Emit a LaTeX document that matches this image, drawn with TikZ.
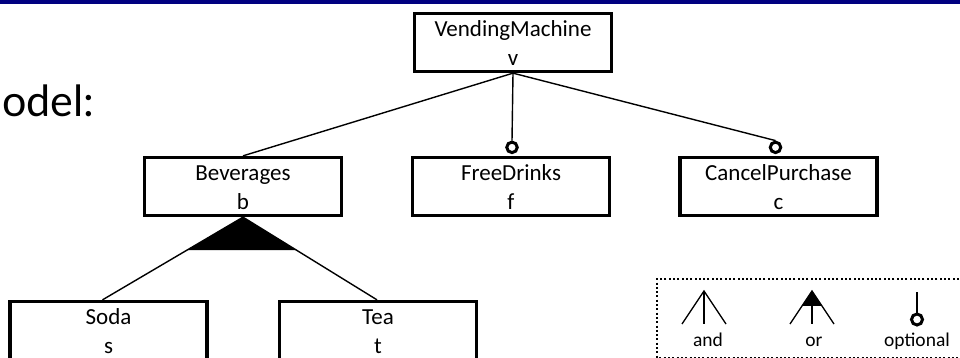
\documentclass[tikz,border=0pt]{standalone}
\usepackage{fontspec}
\setmainfont{Carlito}
\newfontfamily\titlefont{Lato}
\usetikzlibrary{calc}
\definecolor{barblue}{RGB}{0,0,128}
\tikzset{
  fbox/.style={draw, line width=3.3pt, minimum width=197pt, minimum height=58pt, inner sep=0pt},
  flabel/.style={anchor=base, inner sep=0pt, font=\fontsize{23}{28}\selectfont},
  conn/.style={line width=1.4pt},
  optcirc/.style={draw, circle, line width=3pt, minimum size=10.5pt, inner sep=0pt, fill=white},
  legline/.style={line width=1.3pt},
  legtext/.style={anchor=base, inner sep=0pt, font=\fontsize{19.5}{22}\selectfont},
}
\begin{document}
\begin{tikzpicture}[x=1pt, y=-1pt]
  \useasboundingbox (0,0) rectangle (960,358);
  % slide header bar and partial title
  \fill[barblue] (0,0) rectangle (960,4);
  \node[anchor=base west, inner sep=0pt, font=\titlefont\fontsize{43}{50}\selectfont] (title) at (2,117) {odel:};

  % features
  \node[fbox] (v) at (513,42.5) {};
  \node[fbox] (b) at (243,186.5) {};
  \node[fbox] (f) at (511,186.5) {};
  \node[fbox] (c) at (778.5,186.5) {};
  \node[fbox] (s) at (108.5,330.5) {};
  \node[fbox] (t) at (378,330.5) {};

  \foreach \n/\name/\var in {v/VendingMachine/v, b/Beverages/b, f/FreeDrinks/f,
                             c/CancelPurchase/c, s/Soda/s, t/Tea/t} {
    \node[flabel] (\n-name) at ($(\n.north)+(0,24.5)$) {\name};
    \node[flabel] (\n-var) at ($(\n.north)+(0,53.5)$) {\var};
  }

  % optional children of the root
  \node[optcirc] (fo) at ($(f.north)+(1,-8.5)$) {};
  \node[optcirc] (co) at ($(c.north)+(-3,-8.5)$) {};
  \draw[conn] (v.south) -- (b.north);
  \draw[conn] (v.south) -- (fo.north);
  \draw[conn] (v.south) -- (co.north);

  % or-group below Beverages
  \coordinate (sl) at ([xshift=-6pt]s.north);
  \coordinate (tl) at ([xshift=-1pt]t.north);
  \fill (b.south) -- ($(b.south)!0.40!(sl)$) -- ($(b.south)!0.40!(tl)$) -- cycle;
  \draw[conn] (b.south) -- (sl);
  \draw[conn] (b.south) -- (tl);

  % legend
  \draw[line width=2pt, dash pattern=on 2pt off 2.3pt] (976,279) -- (657,279) -- (657,357.5) -- (976,357.5);
  \coordinate (andtop) at (704,291);
  \draw[legline] (682,324) -- (andtop) -- (726,324);
  \draw[legline] (andtop) -- (704,324);
  \node[legtext] (andlbl) at (708,346) {and};

  \coordinate (ortop) at (812,291);
  \fill ($(ortop)!0.45!(790,324)$) -- (ortop) -- ($(ortop)!0.45!(834,324)$) -- cycle;
  \draw[legline] (790,324) -- (ortop) -- (834,324);
  \draw[legline] (ortop) -- (812,324);
  \node[legtext] (orlbl) at (814,346) {or};

  \node[draw, circle, line width=3pt, minimum size=11pt, inner sep=0pt] (optc) at (917,319.5) {};
  \coordinate (opttop) at (917,292);
  \draw[legline] (opttop) -- (optc.north);
  \node[legtext] (optlbl) at (917,346) {optional};
\end{tikzpicture}
\end{document}
